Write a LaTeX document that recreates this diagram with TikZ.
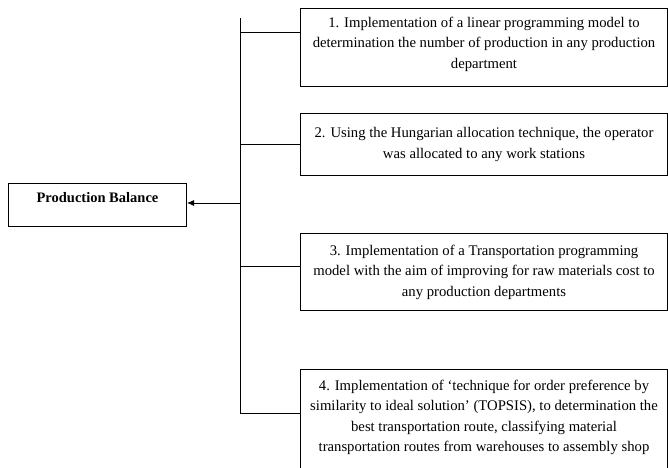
\documentclass[tikz,border=0pt]{standalone}
\usepackage{fontspec}
\setmainfont{Liberation Serif}
\usetikzlibrary{arrows.meta}
\begin{document}
\begin{tikzpicture}[x=1pt,y=1pt,
  box/.style={draw=black, line width=1pt, rectangle, anchor=north west,
    minimum width=367pt, align=center, inner sep=2pt,
    font=\fontsize{14.7}{20.5}\selectfont},
  mainbox/.style={draw=black, line width=1pt, rectangle, anchor=north west,
    minimum width=178pt, minimum height=43pt, inner sep=2pt,
    text height=10pt, text depth=16pt,
    font=\fontsize{14.5}{20.5}\selectfont\bfseries},
  link/.style={draw=black, line width=0.9pt},
  arr/.style={draw=black, line width=0.9pt, -{Latex[length=7pt,width=6pt]}}]
\useasboundingbox (0,0) rectangle (668,-467);
\node[mainbox] (L) at (8,-183) {Production Balance};
\node[box, minimum height=78pt, text depth=10pt] (b1) at (300,-8)
  {1. Implementation of a linear programming model to\\
   determination the number of production in any production\\
   department};
\node[box, minimum height=62pt] (b2) at (300,-113)
  {2. Using the Hungarian allocation technique, the operator\\
   was allocated to any work stations};
\node[box, minimum height=77pt] (b3) at (300,-233)
  {3. Implementation of a Transportation programming\\
   model with the aim of improving for raw materials cost to\\
   any production departments};
\node[box, minimum height=102pt, text depth=9pt] (b4) at (300,-369)
  {4. Implementation of ‘technique for order preference by\\
   similarity to ideal solution’ (TOPSIS), to determination the\\
   best transportation route, classifying material\\
   transportation routes from warehouses to assembly shop};
\coordinate (top) at (240,-18);
\coordinate (bot) at (240,-414);
\coordinate (c1) at (240,-32);
\coordinate (c2) at (240,-144);
\coordinate (c3) at (240,-266);
\coordinate (c4) at (240,-413);
\coordinate (a) at (240,-203);
\draw[link] (top) -- (bot);
\draw[link] (c1) -- (c1 -| b1.west);
\draw[link] (c2) -- (c2 -| b2.west);
\draw[link] (c3) -- (c3 -| b3.west);
\draw[link] (c4) -- (c4 -| b4.west);
\draw[arr] (a) -- (a -| L.east);
\end{tikzpicture}
\end{document}
